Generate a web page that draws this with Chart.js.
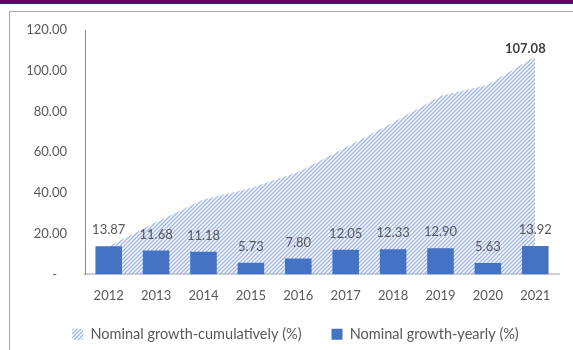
<!DOCTYPE html>
<html>
<head>
<meta charset="utf-8">
<script src="https://cdn.jsdelivr.net/npm/chart.js@4.4.1/dist/chart.umd.min.js"></script>
<style>
    body { margin: 0; background: #fff; width: 573px; height: 350px; overflow: hidden; position: relative; }
    #topBar { position: absolute; left: 0; top: 0; width: 573px; height: 4px; background: #660066; }
    #frame { position: absolute; left: 9px; top: 11px; right: 0; bottom: -2px; border-top: 1px solid #a6a6a6; border-left: 1px solid #a6a6a6; }
    #wrap { position: absolute; left: 10px; top: 12px; width: 563px; height: 338px; }
</style>
</head>
<body>
<div id="topBar"></div>
<div id="frame"></div>
<div id="wrap"><canvas id="growthChart" width="563" height="338"></canvas></div>
<script>
const years = ['2012', '2013', '2014', '2015', '2016', '2017', '2018', '2019', '2020', '2021'];
const yearlyGrowth = [13.87, 11.68, 11.18, 5.73, 7.80, 12.05, 12.33, 12.90, 5.63, 13.92];
const cumulativeGrowth = [13.87, 25.55, 36.73, 42.46, 50.26, 62.31, 74.64, 87.54, 93.17, 107.08];
const yTicks = [0, 20, 40, 60, 80, 100, 120];

const fontName = 'Lato, "Open Sans", sans-serif';
const textGray = '#595959';

// diagonal hatch used for the cumulative area
function makeHatch() {
    let tile = document.createElement('canvas');
    tile.width = 4;
    tile.height = 4;
    let t = tile.getContext('2d');
    t.strokeStyle = '#9cb4df';
    t.lineWidth = 1.3;
    t.beginPath();
    t.moveTo(-1, 5); t.lineTo(5, -1);
    t.moveTo(-1, 1); t.lineTo(1, -1);
    t.moveTo(3, 5); t.lineTo(5, 3);
    t.stroke();
    return t.createPattern(tile, 'repeat');
}
const hatch = makeHatch();

// value labels: above every bar, and a bold one on the last cumulative point
const valueLabels = {
    id: 'valueLabels',
    afterLayout(chart) {
        // pull the legend row up closer to the year labels and a little to the right
        let lg = chart.legend;
        lg.top -= 21;
        lg.left += 11;
        lg.right += 11;
    },
    afterDatasetsDraw(chart) {
        let ctx = chart.ctx;
        ctx.save();
        ctx.textAlign = 'center';
        ctx.textBaseline = 'middle';

        let bars = chart.getDatasetMeta(1).data;
        ctx.font = '13px ' + fontName;
        ctx.fillStyle = textGray;
        bars.forEach((bar, i) => {
            ctx.fillText(yearlyGrowth[i].toFixed(2), bar.x, bar.y - 16);
        });

        let points = chart.getDatasetMeta(0).data;
        let last = points[points.length - 1];
        ctx.font = 'bold 13px ' + fontName;
        ctx.fillStyle = '#404040';
        ctx.fillText(cumulativeGrowth[cumulativeGrowth.length - 1].toFixed(2), last.x - 10, last.y - 8);
        ctx.restore();
    }
};

const ctx = document.getElementById('growthChart').getContext('2d');

let growthChart = new Chart(ctx, {
    type: 'bar',
    data: {
        labels: years,
        datasets: [{
            type: 'line',
            label: 'Nominal growth-cumulatively (%)',
            data: cumulativeGrowth,
            backgroundColor: hatch,
            borderWidth: 0,
            pointRadius: 0,
            fill: 'origin',
            tension: 0,
            order: 2
        }, {
            type: 'bar',
            label: 'Nominal growth-yearly (%)',
            data: yearlyGrowth,
            backgroundColor: '#4472c4',
            categoryPercentage: 1,
            barPercentage: 0.56,
            order: 1
        }]
    },
    options: {
        responsive: false,
        animation: false,
        devicePixelRatio: 1,
        layout: { padding: { top: 18, right: 14, bottom: 0, left: 0 } },
        plugins: {
            tooltip: { enabled: false },
            legend: {
                position: 'bottom',
                maxHeight: 32,
                labels: {
                    boxWidth: 11,
                    boxHeight: 11,
                    padding: 30,
                    color: textGray,
                    font: { family: fontName, size: 14.5 },
                    sort: (a, b) => a.datasetIndex - b.datasetIndex
                }
            }
        },
        scales: {
            x: {
                grid: { display: false, drawTicks: false },
                border: { color: '#d0d0d0', width: 2 },
                ticks: { color: textGray, padding: 14, maxRotation: 0, autoSkip: false, font: { family: fontName, size: 13 } }
            },
            y: {
                min: 0,
                max: 120,
                afterBuildTicks: axis => { axis.ticks = yTicks.map(v => ({ value: v })); },
                afterFit: axis => {
                    axis.width = 75;
                    axis.paddingTop = 0;
                    axis.paddingBottom = 0;
                },
                grid: { display: false, drawTicks: false },
                border: { color: '#8c8c8c', width: 1 },
                ticks: {
                    color: textGray,
                    padding: 18,
                    font: { family: fontName, size: 13 },
                    callback: v => v === 0 ? '-   ' : v.toFixed(2)
                }
            }
        }
    },
    plugins: [valueLabels]
});
</script>
</body>
</html>
